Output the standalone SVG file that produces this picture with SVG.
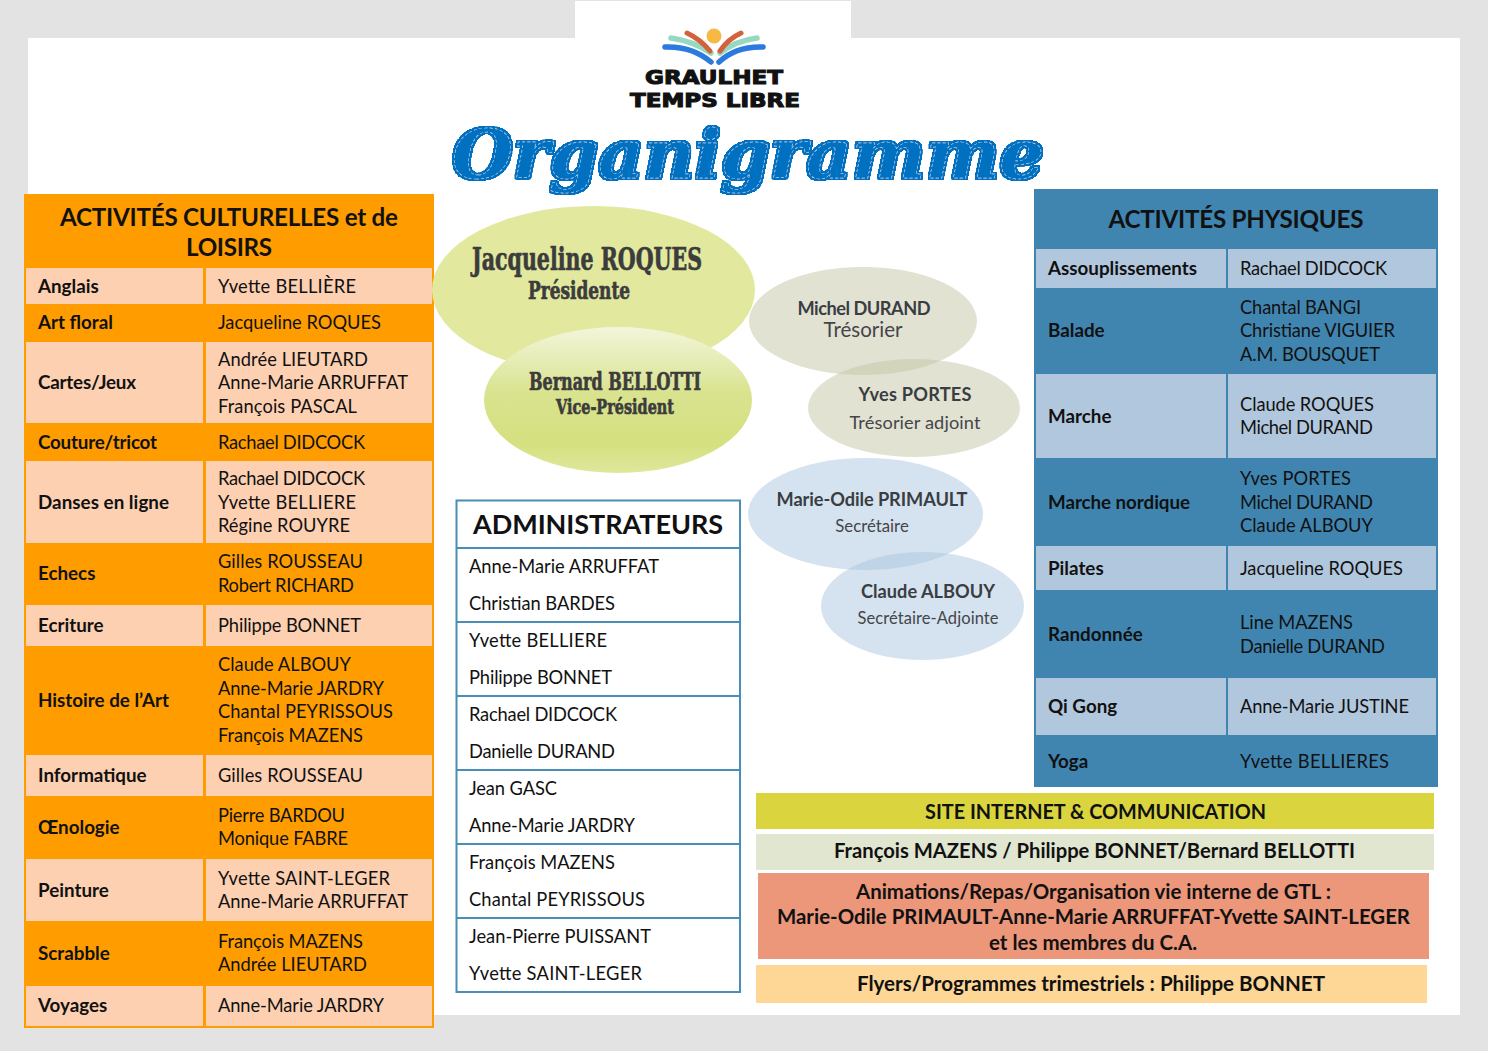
<svg xmlns="http://www.w3.org/2000/svg" width="1488" height="1051" viewBox="0 0 1488 1051">
<defs>
<linearGradient id="vp" x1="0" y1="0" x2="0" y2="1"><stop offset="0" stop-color="#f3f6dc"/><stop offset=".45" stop-color="#d9e38f"/><stop offset=".8" stop-color="#d5e07f"/><stop offset="1" stop-color="#dfe79c"/></linearGradient>
<filter id="fat" x="-5%" y="-20%" width="110%" height="140%">
<feMorphology in="SourceAlpha" operator="dilate" radius="2" result="d"/>
<feGaussianBlur in="d" stdDeviation=".6" result="s"/>
<feComponentTransfer in="s" result="t"><feFuncA type="linear" slope="4" intercept="-1.5"/></feComponentTransfer>
<feFlood flood-color="#0070c0"/>
<feComposite in2="t" operator="in" result="f"/>
<feMerge><feMergeNode in="f"/><feMergeNode in="SourceGraphic"/></feMerge>
</filter>
</defs>
<style>
text{font-family:"Lato","Open Sans",sans-serif;fill:#111}
.n{font-size:18.3px}
.b{font-size:18.8px;font-weight:700}
.h{font-size:24.2px;font-weight:700;text-anchor:middle}
.c{font-size:20.5px;font-weight:700;text-anchor:middle}
.cd{font-family:"DejaVu Serif","Liberation Serif",serif;font-weight:700;fill:#3c3c3c;stroke:#3c3c3c;stroke-width:.7;text-anchor:middle}
.e{font-size:18.2px;fill:#45454a;text-anchor:middle}
.eb{font-weight:700;fill:#3a3d42}
.lg{font-family:"DejaVu Sans","Liberation Sans",sans-serif;font-weight:700;font-size:19.6px;stroke:#111;stroke-width:1.1;text-anchor:middle}
.o{fill:#ff9d00}.p{fill:#fdd0b1}.bl{fill:#4085b0}.lb{fill:#b1c7dd}
.l{stroke:#4a8db5;stroke-width:2;fill:none}
.ray{fill:none;stroke-linecap:round}
.blue{stroke:#2a7ae0;stroke-width:5.500}.teal{stroke:#97d9c0;stroke-width:5.500}.red{stroke:#d2613c;stroke-width:5}
.olive{fill:#c3c5a5;fill-opacity:.5}.sky{fill:#a9c8df;fill-opacity:.5}
</style>
<rect width="1488" height="1051" fill="#e3e3e3"/>
<rect x="28" y="38" width="1432" height="977" fill="#fff"/>
<rect x="575" y="1" width="276" height="38" fill="#fff"/>

<g id="logo">
<circle cx="714" cy="36" r="7.500" fill="#f8b844"/>
<path class="ray blue" d="M665 47Q692 46 711 62"/>
<path class="ray blue" d="M763 47Q736 46 719 62"/>
<path class="ray teal" d="M671 38Q693 41 711 53"/>
<path class="ray teal" d="M757 38Q735 41 720 53"/>
<path class="ray red" d="M687 33Q700 39 710 51"/>
<path class="ray red" d="M741 33Q728 39 720 51"/>
<text class="lg" x="714" y="83.500" textLength="138" lengthAdjust="spacingAndGlyphs">GRAULHET</text>
<text class="lg" x="715" y="106.500" textLength="170" lengthAdjust="spacingAndGlyphs">TEMPS LIBRE</text>
</g>

<g id="title">
<text x="452" y="178" filter="url(#fat)" style="font-family:'DejaVu Serif','Liberation Serif',serif;font-weight:700;font-style:italic;font-size:67px;fill:#0070c0;stroke:#cfe4f5;stroke-width:.45;stroke-dasharray:3 2" textLength="592" lengthAdjust="spacingAndGlyphs">Organigramme</text>
</g>

<g id="table-culture">
<rect x="24" y="194" width="410" height="834" class="o"/>
<rect x="26" y="268" width="177" height="36" class="p"/><rect x="206" y="268" width="226" height="36" class="p"/>
<rect x="26" y="342" width="177" height="81" class="p"/><rect x="206" y="342" width="226" height="81" class="p"/>
<rect x="26" y="461" width="177" height="82" class="p"/><rect x="206" y="461" width="226" height="82" class="p"/>
<rect x="26" y="605" width="177" height="41" class="p"/><rect x="206" y="605" width="226" height="41" class="p"/>
<rect x="26" y="755" width="177" height="41" class="p"/><rect x="206" y="755" width="226" height="41" class="p"/>
<rect x="26" y="859" width="177" height="62" class="p"/><rect x="206" y="859" width="226" height="62" class="p"/>
<rect x="26" y="986" width="177" height="40" class="p"/><rect x="206" y="986" width="226" height="40" class="p"/>
<text class="h" x="229" y="226" textLength="338">ACTIVITÉS CULTURELLES et de</text>
<text class="h" x="229" y="256" textLength="86">LOISIRS</text>
<text class="b" x="38" y="293">Anglais</text><text class="n" x="218" y="293" textLength="138">Yvette BELLIÈRE</text>
<text class="b" x="38" y="329">Art floral</text><text class="n" x="218" y="329" textLength="163">Jacqueline ROQUES</text>
<text class="b" x="38" y="389" textLength="98">Cartes/Jeux</text><text class="n" x="218" y="366" textLength="150">Andrée LIEUTARD</text><text class="n" x="218" y="389" textLength="190">Anne-Marie ARRUFFAT</text><text class="n" x="218" y="413" textLength="139">François PASCAL</text>
<text class="b" x="38" y="449" textLength="119">Couture/tricot</text><text class="n" x="218" y="449" textLength="147">Rachael DIDCOCK</text>
<text class="b" x="38" y="509" textLength="131">Danses en ligne</text><text class="n" x="218" y="485" textLength="147">Rachael DIDCOCK</text><text class="n" x="218" y="509" textLength="138">Yvette BELLIERE</text><text class="n" x="218" y="532" textLength="132">Régine ROUYRE</text>
<text class="b" x="38" y="580">Echecs</text><text class="n" x="218" y="568" textLength="145">Gilles ROUSSEAU</text><text class="n" x="218" y="592" textLength="136">Robert RICHARD</text>
<text class="b" x="38" y="632">Ecriture</text><text class="n" x="218" y="632" textLength="143">Philippe BONNET</text>
<text class="b" x="38" y="707" textLength="131">Histoire de l’Art</text><text class="n" x="218" y="671" textLength="133">Claude ALBOUY</text><text class="n" x="218" y="695" textLength="166">Anne-Marie JARDRY</text><text class="n" x="218" y="718" textLength="175">Chantal PEYRISSOUS</text><text class="n" x="218" y="742" textLength="145">François MAZENS</text>
<text class="b" x="38" y="782">Informatique</text><text class="n" x="218" y="782" textLength="145">Gilles ROUSSEAU</text>
<text class="b" x="38" y="834">Œnologie</text><text class="n" x="218" y="822" textLength="127">Pierre BARDOU</text><text class="n" x="218" y="845" textLength="130">Monique FABRE</text>
<text class="b" x="38" y="897">Peinture</text><text class="n" x="218" y="885" textLength="172">Yvette SAINT-LEGER</text><text class="n" x="218" y="908" textLength="190">Anne-Marie ARRUFFAT</text>
<text class="b" x="38" y="960">Scrabble</text><text class="n" x="218" y="948" textLength="145">François MAZENS</text><text class="n" x="218" y="971" textLength="149">Andrée LIEUTARD</text>
<text class="b" x="38" y="1012">Voyages</text><text class="n" x="218" y="1012" textLength="166">Anne-Marie JARDRY</text>
</g>

<g id="table-physique">
<rect x="1034" y="189" width="404" height="598" class="bl"/>
<rect x="1036" y="249" width="190" height="39" class="lb"/><rect x="1228" y="249" width="208" height="39" class="lb"/>
<rect x="1036" y="374" width="190" height="84" class="lb"/><rect x="1228" y="374" width="208" height="84" class="lb"/>
<rect x="1036" y="546" width="190" height="44" class="lb"/><rect x="1228" y="546" width="208" height="44" class="lb"/>
<rect x="1036" y="678" width="190" height="57" class="lb"/><rect x="1228" y="678" width="208" height="57" class="lb"/>
<text class="h" x="1236" y="228" textLength="255">ACTIVITÉS PHYSIQUES</text>
<text class="b" x="1048" y="275">Assouplissements</text><text class="n" x="1240" y="275" textLength="147">Rachael DIDCOCK</text>
<text class="b" x="1048" y="337">Balade</text><text class="n" x="1240" y="314" textLength="121">Chantal BANGI</text><text class="n" x="1240" y="337" textLength="155">Christiane VIGUIER</text><text class="n" x="1240" y="361" textLength="140">A.M. BOUSQUET</text>
<text class="b" x="1048" y="423">Marche</text><text class="n" x="1240" y="411" textLength="134">Claude ROQUES</text><text class="n" x="1240" y="434" textLength="133">Michel DURAND</text>
<text class="b" x="1048" y="509" textLength="142">Marche nordique</text><text class="n" x="1240" y="485" textLength="111">Yves PORTES</text><text class="n" x="1240" y="509" textLength="133">Michel DURAND</text><text class="n" x="1240" y="532" textLength="133">Claude ALBOUY</text>
<text class="b" x="1048" y="575">Pilates</text><text class="n" x="1240" y="575" textLength="163">Jacqueline ROQUES</text>
<text class="b" x="1048" y="641">Randonnée</text><text class="n" x="1240" y="629" textLength="113">Line MAZENS</text><text class="n" x="1240" y="653" textLength="145">Danielle DURAND</text>
<text class="b" x="1048" y="713">Qi Gong</text><text class="n" x="1240" y="713" textLength="169">Anne-Marie JUSTINE</text>
<text class="b" x="1048" y="768">Yoga</text><text class="n" x="1240" y="768" textLength="149">Yvette BELLIERES</text>
</g>

<g id="admin">
<rect x="456.500" y="500.500" width="283.500" height="491.500" class="l"/>
<path class="l" d="M457 548H740M457 622H740M457 696H740M457 770H740M457 844H740M457 918H740"/>
<text x="598" y="534" textLength="250" style="font-size:27px;font-weight:700;text-anchor:middle">ADMINISTRATEURS</text>
<text class="n" x="469" y="573" textLength="190">Anne-Marie ARRUFFAT</text><text class="n" x="469" y="610" textLength="146">Christian BARDES</text>
<text class="n" x="469" y="647" textLength="138">Yvette BELLIERE</text><text class="n" x="469" y="684" textLength="143">Philippe BONNET</text>
<text class="n" x="469" y="721" textLength="148">Rachael DIDCOCK</text><text class="n" x="469" y="758" textLength="146">Danielle DURAND</text>
<text class="n" x="469" y="795" textLength="88">Jean GASC</text><text class="n" x="469" y="832" textLength="166">Anne-Marie JARDRY</text>
<text class="n" x="469" y="869" textLength="146">François MAZENS</text><text class="n" x="469" y="906" textLength="176">Chantal PEYRISSOUS</text>
<text class="n" x="469" y="943" textLength="182">Jean-Pierre PUISSANT</text><text class="n" x="469" y="980" textLength="173">Yvette SAINT-LEGER</text>
</g>

<g id="president">
<ellipse cx="593.500" cy="290" rx="161.500" ry="84" fill="#e2e99e"/>
<text class="cd" x="587" y="270" font-size="31" textLength="230" lengthAdjust="spacingAndGlyphs">Jacqueline ROQUES</text>
<text class="cd" x="579" y="299" font-size="24" textLength="102" lengthAdjust="spacingAndGlyphs">Présidente</text>
</g>
<g id="vice-president">
<ellipse cx="618" cy="400" rx="134" ry="73" fill="url(#vp)"/>
<text class="cd" x="615" y="390" font-size="24" textLength="172" lengthAdjust="spacingAndGlyphs">Bernard BELLOTTI</text>
<text class="cd" x="615" y="414" font-size="21" textLength="118" lengthAdjust="spacingAndGlyphs">Vice-Président</text>
</g>
<g id="tresorier">
<ellipse cx="863" cy="321" rx="114" ry="54" class="olive"/>
<text class="e eb" x="864" y="315" textLength="133">Michel DURAND</text>
<text class="e" x="863" y="337" style="font-size:20.500px">Trésorier</text>
</g>
<g id="tresorier-adjoint">
<ellipse cx="914" cy="408" rx="106" ry="49" class="olive"/>
<text class="e eb" x="915" y="401" textLength="113">Yves PORTES</text>
<text class="e" x="915" y="429" textLength="131">Trésorier adjoint</text>
</g>
<g id="secretaire">
<ellipse cx="865.500" cy="514" rx="117.500" ry="56" class="sky"/>
<text class="e eb" x="872" y="506" textLength="191">Marie-Odile PRIMAULT</text>
<text class="e" x="872" y="532" style="font-size:16.800px">Secrétaire</text>
</g>
<g id="secretaire-adjointe">
<ellipse cx="922.500" cy="606" rx="101.500" ry="54" class="sky"/>
<text class="e eb" x="928" y="598" textLength="134">Claude ALBOUY</text>
<text class="e" x="928" y="624" style="font-size:16.500px" textLength="141">Secrétaire-Adjointe</text>
</g>

<g id="site">
<rect x="756" y="793" width="678" height="36" fill="#dad53f"/>
<text class="c" x="1095.500" y="819" textLength="341" lengthAdjust="spacingAndGlyphs">SITE INTERNET &amp; COMMUNICATION</text>
</g>
<g id="site-names">
<rect x="756" y="834" width="678" height="36" fill="#e1e6d1"/>
<text class="c" x="1094.500" y="858" textLength="521" lengthAdjust="spacingAndGlyphs">François MAZENS / Philippe BONNET/Bernard BELLOTTI</text>
</g>
<g id="animations">
<rect x="758" y="873" width="671" height="86" fill="#ec967a"/>
<text class="c" x="1093.500" y="899" textLength="475" lengthAdjust="spacingAndGlyphs">Animations/Repas/Organisation vie interne de GTL :</text>
<text class="c" x="1093.500" y="924" textLength="633" lengthAdjust="spacingAndGlyphs">Marie-Odile PRIMAULT-Anne-Marie ARRUFFAT-Yvette SAINT-LEGER</text>
<text class="c" x="1093" y="950" textLength="208" lengthAdjust="spacingAndGlyphs">et les membres du C.A.</text>
</g>
<g id="flyers">
<rect x="756" y="965" width="671" height="38" fill="#fed696"/>
<text class="c" x="1091" y="991" textLength="468" lengthAdjust="spacingAndGlyphs">Flyers/Programmes trimestriels : Philippe BONNET</text>
</g>
</svg>
